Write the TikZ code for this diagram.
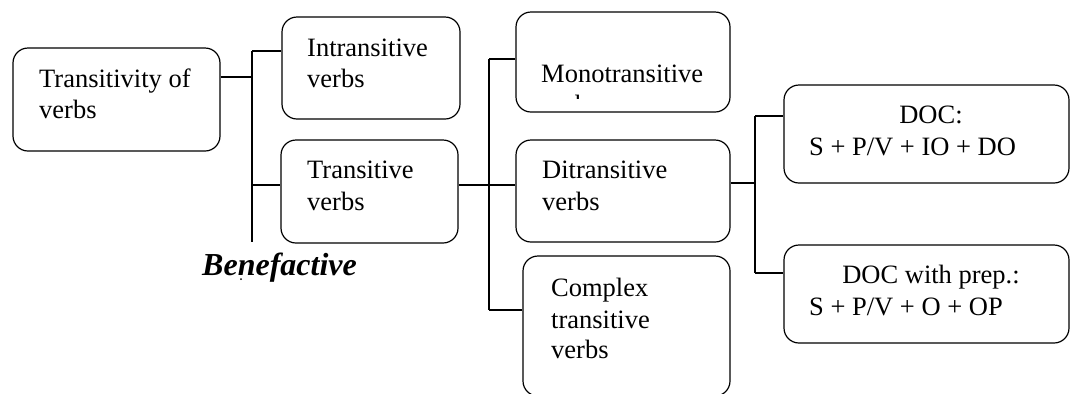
\documentclass[tikz,border=0pt]{standalone}
\usepackage{fontspec}
\setmainfont{Liberation Serif}
\tikzset{
  box/.style={draw, line width=1.2bp, rounded corners=15bp, inner sep=0pt},
  txt/.style={anchor=base west, inner sep=0pt, font=\fontsize{26.5bp}{31bp}\selectfont},
  ctxt/.style={anchor=base, inner sep=0pt, font=\fontsize{26.5bp}{31bp}\selectfont},
  conn/.style={line width=1.1bp},
}
\begin{document}
\begin{tikzpicture}[x=1bp, y=-1bp]
\clip (0,0) rectangle (1070,393);
\fill[white] (0,0) rectangle (1070,393);

% boxes
\node[box, minimum width=207bp, minimum height=103bp] (A) at (116.5,99.5) {};
\node[box, minimum width=178bp, minimum height=102bp] (B) at (371,68) {};
\node[box, minimum width=177bp, minimum height=103bp] (C) at (369.5,191.5) {};
\node[box, minimum width=214bp, minimum height=100bp] (D) at (623,62) {};
\node[box, minimum width=214bp, minimum height=102bp] (E) at (623,191) {};
\node[box, minimum width=207bp, minimum height=140bp] (F) at (626.5,326) {};
\node[box, minimum width=285bp, minimum height=98bp] (G) at (926.5,134) {};
\node[box, minimum width=285bp, minimum height=98bp] (H) at (926.5,294) {};

% texts
\node[txt] (A1) at (39,87) {Transitivity of};
\node[txt] (A2) at (39,118) {verbs};
\node[txt] (B1) at (307,56) {Intransitive};
\node[txt] (B2) at (307,87) {verbs};
\node[txt] (C1) at (307,178) {Transitive};
\node[txt] (C2) at (307,210) {verbs};
\node[txt] (D1) at (541,82) {Monotransitive};
\begin{scope}
  \clip (516,90) rectangle (730,98.5);
  \node[txt] (D2) at (541,113) {verbs};
\end{scope}
\node[txt] (E1) at (542,178) {Ditransitive};
\node[txt] (E2) at (542,210) {verbs};
\node[txt] (F1) at (551,296) {Complex};
\node[txt] (F2) at (551,328) {transitive};
\node[txt] (F3) at (551,358) {verbs};
\node[ctxt] (G1) at (931,123) {DOC:};
\node[txt] (G2) at (809,155) {S + P/V + IO + DO};
\node[ctxt] (H1) at (931,283) {DOC with prep.:};
\node[txt] (H2) at (809,315) {S + P/V + O + OP};

\node[anchor=base west, inner sep=0pt, font=\fontsize{32bp}{36bp}\selectfont\bfseries\itshape] (ben) at (202,275) {Benefactive};
\fill (241,279) circle (1bp);

% junction coordinates
\coordinate (j1) at (252,77);
\coordinate (j1t) at (252,51);
\coordinate (j1b) at (252,242);
\coordinate (j1c) at (252,185);
\coordinate (j2) at (489,185);
\coordinate (j2t) at (489,59);
\coordinate (j2b) at (489,310);
\coordinate (j3) at (755,183);
\coordinate (j3t) at (755,116);
\coordinate (j3b) at (755,273);

% connectors
\draw[conn] (A.east |- j1) -- (j1);
\draw[conn] (j1t) -- (j1b);
\draw[conn] (j1t) -- (B.west |- j1t);
\draw[conn] (j1c) -- (C.west |- j1c);

\draw[conn] (C.east |- j2) -- (E.west |- j2);
\draw[conn] (j2t) -- (j2b);
\draw[conn] (j2t) -- (D.west |- j2t);
\draw[conn] (j2b) -- (F.west |- j2b);

\draw[conn] (E.east |- j3) -- (j3);
\draw[conn] (j3t) -- (j3b);
\draw[conn] (j3t) -- (G.west |- j3t);
\draw[conn] (j3b) -- (H.west |- j3b);
\end{tikzpicture}
\end{document}
